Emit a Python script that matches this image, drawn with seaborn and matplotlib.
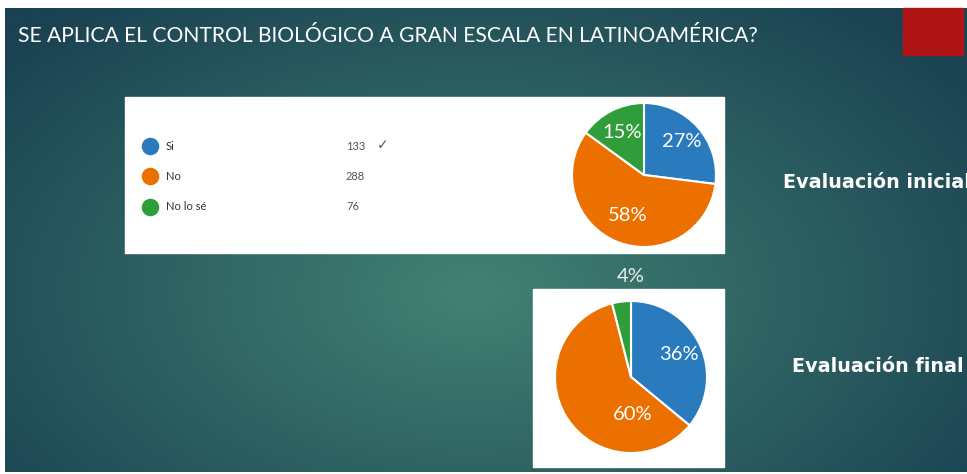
import numpy as np
import matplotlib
matplotlib.use("Agg")
import matplotlib.pyplot as plt
import seaborn as sns

sns.set_style("white")
plt.rcParams["font.family"] = ["Lato", "DejaVu Sans"]

# data
title = "SE APLICA EL CONTROL BIOLÓGICO A GRAN ESCALA EN LATINOAMÉRICA?"
categories = ["Si", "No", "No lo sé"]
counts_initial = [133, 288, 76]
pct_initial = [27, 58, 15]
pct_final = [36, 60, 4]
stage_labels = ["Evaluación inicial", "Evaluación final"]

colors = ["#2a7bbd", "#ec7000", "#2f9e3a"]

W, H = 967, 474
fig = plt.figure(figsize=(W / 100, H / 100), dpi=100)
fig.patch.set_facecolor("white")

# slide background with a radial teal gradient
bg = fig.add_axes([0, 0, 1, 1])
yy, xx = np.mgrid[0:H, 0:W]
d = np.sqrt(((xx - 470) / 620) ** 2 + ((yy - 290) / 380) ** 2)
d = np.clip(d, 0, 1)[..., None]
inner = np.array([0x42, 0x82, 0x73]) / 255
outer = np.array([0x1a, 0x42, 0x52]) / 255
img = inner * (1 - d) + outer * d
bg.imshow(img, extent=(5, W, 472, 8), aspect="auto", zorder=0)
bg.set_xlim(0, W)
bg.set_ylim(H, 0)
bg.axis("off")

bg.add_patch(plt.Rectangle((903, 8), 60, 47, color="#b01515", zorder=2))
bg.text(18, 36, title, color="white", fontsize=15.2, va="center", ha="left",
        zorder=3)

# white panels
bg.add_patch(plt.Rectangle((125, 97), 599, 156, color="white", zorder=1))
bg.add_patch(plt.Rectangle((533, 289), 191, 178, color="white", zorder=1))

# forms-style legend
row_y = [146, 176, 207]
for c, lab, n, y in zip(colors, categories, counts_initial, row_y):
    bg.scatter([150], [y], s=135, color=c, zorder=3)
    bg.text(166, y, lab, fontsize=8, color="#333333", va="center", zorder=3)
    bg.text(346, y, str(n), fontsize=8, color="#555555", va="center", zorder=3)
bg.text(377, row_y[0] - 1, "✓", fontsize=10, color="#555555", va="center",
        family=["DejaVu Sans"], zorder=3)

for lab, y in zip(stage_labels, [183, 367]):
    x = 783 if y < 300 else 792
    bg.text(x, y, lab, fontsize=13.8, color="white", fontweight="bold",
            family=["DejaVu Sans"], va="center", ha="left", zorder=3)


def draw_pie(box, values, label_pos):
    left, top, right, bottom = box
    ax = fig.add_axes([left / W, 1 - bottom / H, (right - left) / W, (bottom - top) / H])
    ax.pie(values, colors=colors, startangle=90, counterclock=False,
           wedgeprops=dict(edgecolor="white", linewidth=1.5))
    ax.set_xlim(-1, 1)
    ax.set_ylim(-1, 1)
    ax.set_aspect("equal")
    ax.axis("off")
    start = 90.0
    for v, (dist, shift) in zip(values, label_pos):
        ang = np.deg2rad(start - v * 3.6 / 2 + shift)
        start -= v * 3.6
        ax.text(dist * np.cos(ang), dist * np.sin(ang), f"{v}%", color="white",
                fontsize=14.5, ha="center", va="center", clip_on=False)
    return ax


ax1 = draw_pie((572, 103, 716, 247), pct_initial, [(0.7, 0), (0.6, 0), (0.67, 0)])
ax2 = draw_pie((555, 301, 707, 453), pct_final, [(0.7, 0), (0.5, 60), (1.32, -7)])
ax2.texts[-1].set_color("#e8f0ee")

fig.savefig("out.png", dpi=100)
